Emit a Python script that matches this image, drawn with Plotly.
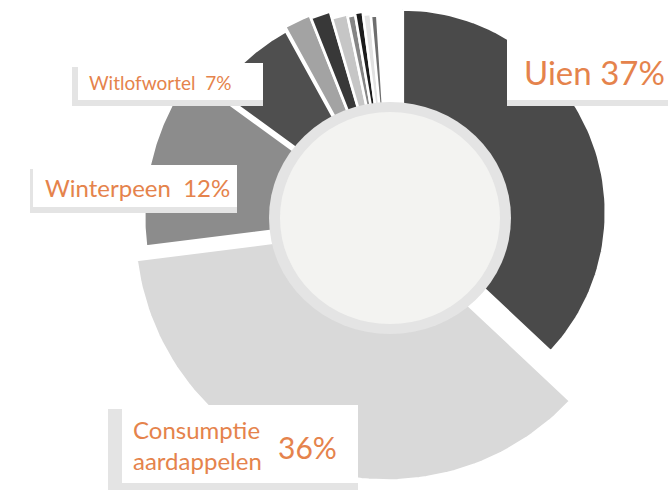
import numpy as np
import plotly.graph_objects as go

# ---- data ----
categories = ["Uien", "Consumptie aardappelen", "Winterpeen", "Witlofwortel",
              "Overig a", "Overig b", "Overig c", "Overig d", "Overig e", "Overig f", "Overig g"]
shares = [37, 36, 12, 7, 2.0, 1.5, 1.2, 0.6, 0.6, 0.6, 0.5]

# ---- styling ----
colors = ["#4a4a4a", "#d9d9d9", "#8c8c8c", "#4f4f4f",
          "#a3a3a3", "#383838", "#c6c6c6", "#858585", "#1c1c1c", "#e2e2e2", "#6e6e6e"]
outer_r = [203, 252, 240, 208, 215, 212, 205, 203, 205, 202, 200]
pulls = [14, 11, 6, 6, 3, 3, 3, 3, 3, 3, 3]
inner_r = 95
cx, cy = 390, 218
W, H = 668, 494
orange = "#e5834c"

fig = go.Figure()

cum = np.cumsum([0] + shares)
for i, v in enumerate(shares):
    t0 = np.deg2rad(cum[i] / 100 * 360)
    t1 = np.deg2rad(cum[i + 1] / 100 * 360)
    tm = (t0 + t1) / 2
    ox, oy = pulls[i] * np.sin(tm), -pulls[i] * np.cos(tm)
    ta = np.linspace(t0, t1, 80)
    xs = np.concatenate([cx + ox + outer_r[i] * np.sin(ta), cx + ox + inner_r * np.sin(ta[::-1])])
    ys = np.concatenate([cy + oy - outer_r[i] * np.cos(ta), cy + oy - inner_r * np.cos(ta[::-1])])
    fig.add_trace(go.Scatter(x=np.append(xs, xs[0]), y=np.append(ys, ys[0]), mode="lines",
                             fill="toself", fillcolor=colors[i],
                             line=dict(color="white", width=2.5),
                             name=categories[i], hoverinfo="name", showlegend=False))

shapes = []
# centre disk
shapes.append(dict(type="circle", xref="x", yref="y", x0=cx - 121, x1=cx + 121, y0=cy - 116, y1=cy + 116,
                   fillcolor="#e4e4e4", line=dict(width=0), layer="above"))
shapes.append(dict(type="circle", xref="x", yref="y", x0=cx - 110, x1=cx + 110, y0=cy - 106, y1=cy + 106,
                   fillcolor="#f3f3f1", line=dict(width=0), layer="above"))


def box(x0, x1, y0, y1, left_shadow=6, bottom_shadow=6):
    shapes.append(dict(type="rect", xref="x", yref="y", x0=x0 - left_shadow, x1=x1,
                       y0=y0 + 4, y1=y1 + bottom_shadow, fillcolor="#e4e4e4",
                       line=dict(width=0), layer="above"))
    shapes.append(dict(type="rect", xref="x", yref="y", x0=x0, x1=x1, y0=y0, y1=y1,
                       fillcolor="white", line=dict(width=0), layer="above"))


box(507, 668, 40, 100, left_shadow=0)
box(78, 263, 63, 100)
box(33, 237, 165, 207, left_shadow=3)
box(122, 358, 405, 483, left_shadow=14, bottom_shadow=7)

font_family = "Lato, 'Open Sans', sans-serif"
ann = []
ann.append(dict(x=522, y=72, text=f"{categories[0]} {shares[0]}%", xanchor="left", yanchor="middle",
                font=dict(size=33, color=orange, family=font_family)))
ann.append(dict(x=87, y=82, text=f"{categories[3]}&nbsp;&nbsp;{shares[3]}%", xanchor="left", yanchor="middle",
                font=dict(size=19, color=orange, family=font_family)))
ann.append(dict(x=43, y=187, text=f"{categories[2]}&nbsp;&nbsp;{shares[2]}%", xanchor="left", yanchor="middle",
                font=dict(size=24, color=orange, family=font_family)))
ann.append(dict(x=131, y=445, text="<br>".join(categories[1].split(" ")), xanchor="left", yanchor="middle",
                align="left", font=dict(size=24, color=orange, family=font_family)))
ann.append(dict(x=276, y=447, text=f"{shares[1]}%", xanchor="left", yanchor="middle",
                font=dict(size=30, color=orange, family=font_family)))
for a in ann:
    a.update(xref="x", yref="y", showarrow=False)

fig.update_layout(
    width=W, height=H, margin=dict(l=0, r=0, t=0, b=0),
    paper_bgcolor="white", plot_bgcolor="white",
    xaxis=dict(range=[0, W], visible=False, fixedrange=True),
    yaxis=dict(range=[H, 0], visible=False, fixedrange=True),
    shapes=shapes, annotations=ann, showlegend=False,
)

fig.write_html("out.html")
